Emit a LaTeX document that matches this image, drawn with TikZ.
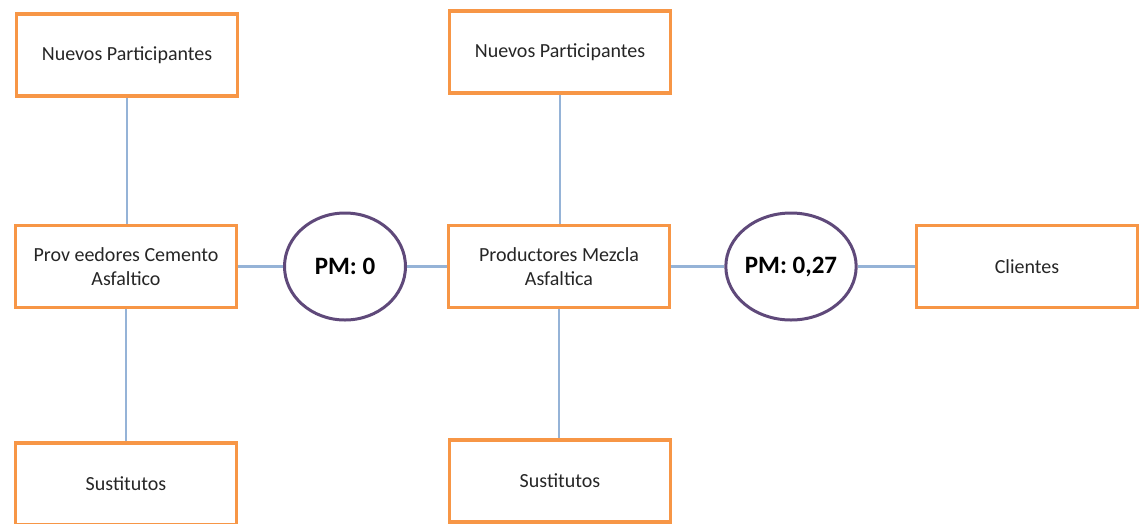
\documentclass[tikz,border=0pt]{standalone}
\usepackage{fontspec}
\setmainfont{Carlito}
\usetikzlibrary{shapes.geometric}
\definecolor{boxorange}{HTML}{F79646}
\definecolor{linkblue}{HTML}{95B3D7}
\definecolor{ringpurple}{HTML}{5F497A}
\begin{document}
\begin{tikzpicture}[x=1pt,y=-1pt,
  forcebox/.style={draw=boxorange, line width=3.5pt, fill=white,
    minimum width=221pt, minimum height=82pt, inner sep=0pt, align=center,
    font=\fontsize{20}{24}\selectfont, text=black!85},
  pmring/.style={draw=ringpurple, line width=3pt, ellipse, fill=white,
    minimum width=121pt, minimum height=107pt, inner sep=0pt,
    font=\bfseries\fontsize{25}{30}\selectfont},
  link/.style={draw=linkblue, line width=2.5pt}]
  \useasboundingbox (0,0) rectangle (1139,523);

  % left column
  \node[forcebox] (np1)   at (127,55)    {Nuevos Participantes};
  \node[forcebox] (prov)  at (126,266.5) {Prov eedores Cemento\\Asfaltico};
  \node[forcebox] (sus1)  at (126,484)   {Sustitutos};

  % middle column
  \node[forcebox] (np2)   at (560,52)    {Nuevos Participantes};
  \node[forcebox] (prod)  at (559,266.5) {Productores Mezcla\\Asfaltica};
  \node[forcebox] (sus2)  at (560,481)   {Sustitutos};

  % rivalry rings and customers
  \node[pmring]   (pm1)   at (345,266.5) {PM: 0};
  \node[pmring]   (pm2)   at (791,266.5) {PM:~0,27};
  \node[forcebox] (cli)   at (1027,266.5) {Clientes};

  % connectors
  \draw[link] (np1.south) -- (np1.south |- prov.north);
  \draw[link] (prov.south) -- (prov.south |- sus1.north);
  \draw[link] (np2.south) -- (np2.south |- prod.north);
  \draw[link] (prod.south) -- (prod.south |- sus2.north);
  \draw[link] (prov.east) -- (pm1.west);
  \draw[link] (pm1.east) -- (prod.west);
  \draw[link] (prod.east) -- (pm2.west);
  \draw[link] (pm2.east) -- (cli.west);
\end{tikzpicture}
\end{document}
